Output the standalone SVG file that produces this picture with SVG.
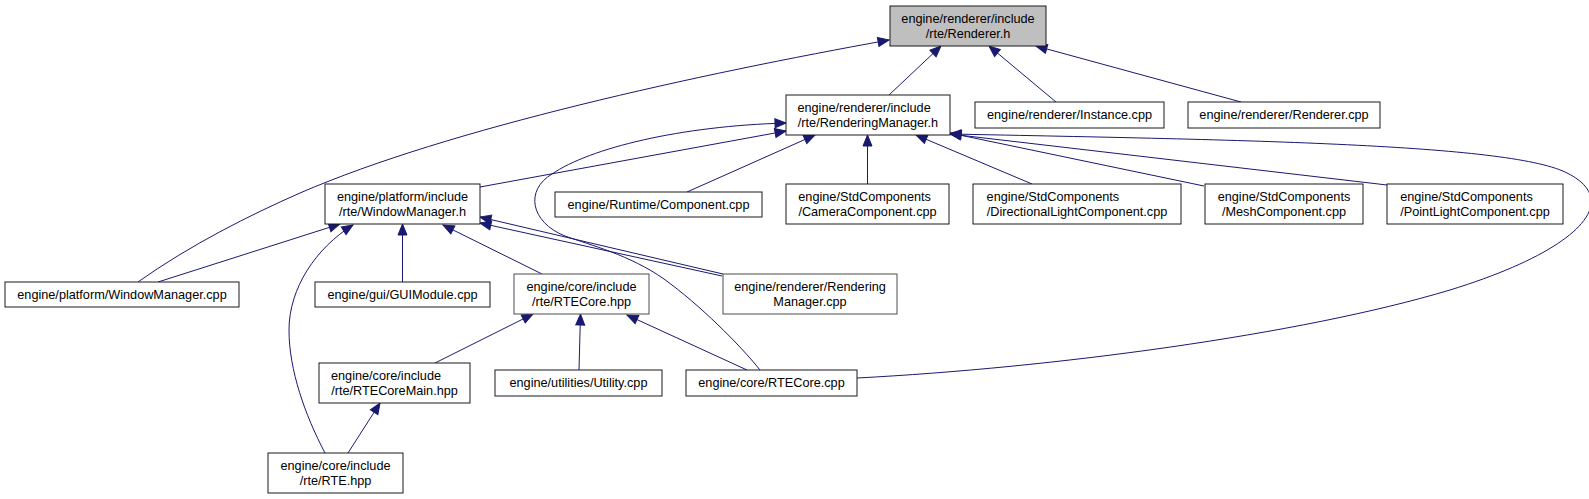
<svg xmlns="http://www.w3.org/2000/svg" width="1589" height="499" viewBox="0 0 1589 499">
<style>
.n rect{fill:#ffffff;stroke:#1a1a1a;stroke-width:1}
.n.g rect{stroke:#4d4d4d}
.n.root rect{fill:#bfbfbf}
.n text{font-family:"Liberation Sans",Arial,sans-serif;font-size:12.7px;fill:#000000}
.m{text-anchor:middle}
.s{text-anchor:start}
#edges path{fill:none;stroke:#191970;stroke-width:1;marker-end:url(#ah)}
</style>
<defs>
<marker id="ah" markerUnits="userSpaceOnUse" markerWidth="12" markerHeight="10" refX="11" refY="4.5" orient="auto" overflow="visible">
<path d="M0,0 L11,4.5 L0,9 Z" fill="#191970" stroke="#191970" stroke-width="1"/>
</marker>
</defs>
<rect width="1589" height="499" fill="#ffffff"/>
<g id="edges">
<path id="e_wmcpp_rh" d="M138,282 C190,245 250,215 300,193 C450,128 700,74 889,40"/>
<path id="e_rmh_rh" d="M889,95 L941,46"/>
<path id="e_inst_rh" d="M1056,102 L989,46"/>
<path id="e_rcpp_rh" d="M1241,102 L1036,46"/>
<path id="e_wmh_rmh" d="M480,187 L786,131"/>
<path id="e_rtecpp_rmh_left" d="M760,370 C740,345 700,305 664,279 C630,255 590,245 565,236 C530,222 525,190 552,174 C590,148 680,126 786,123"/>
<path id="e_rmcpp_wmh_a" d="M723,274 L480,217"/>
<path id="e_rmcpp_wmh_b" d="M722,276 L480,223"/>
<path id="e_wmcpp_wmh" d="M158,282 L340,224"/>
<path id="e_rte_wmh" d="M325,453 C305,415 289,370 289,330 C289,288 316,248 353,225"/>
<path id="e_gui_wmh" d="M402.5,282 L402.5,224"/>
<path id="e_rtehpp_wmh" d="M542,274 L443,225"/>
<path id="e_main_rtehpp" d="M435,363 L533,314"/>
<path id="e_rte_main" d="M348,453 L380,403"/>
<path id="e_util_rtehpp" d="M579,370 L580.5,314"/>
<path id="e_rtecpp_rtehpp" d="M747,370 L627,315"/>
<path id="e_comp_rmh" d="M687,192 L815,135"/>
<path id="e_cam_rmh" d="M867.5,184 L867.5,135"/>
<path id="e_dir_rmh" d="M1032,184 L916,135"/>
<path id="e_mesh_rmh" d="M1204,186 L950,133"/>
<path id="e_point_rmh" d="M1387,185 L950,134"/>
<path id="e_rtecpp_rmh_right" d="M857,378 C1050,368 1300,335 1450,290 C1580,250 1625,200 1565,172 C1505,144 1250,140 950,134"/>
</g>
<g id="n_renderer_h" class="n root"><rect x="890" y="6" width="156" height="40"/><text class="m" x="968" y="23">engine/renderer/include</text><text class="m" x="968" y="37.5">/rte/Renderer.h</text></g>
<g id="n_renderingmanager_h" class="n"><rect x="786" y="95" width="164" height="40"/><text class="s" x="797.4" y="112">engine/renderer/include</text><text class="m" x="868" y="126.5">/rte/RenderingManager.h</text></g>
<g id="n_instance_cpp" class="n"><rect x="975" y="102" width="189" height="26"/><text class="m" x="1069.5" y="119">engine/renderer/Instance.cpp</text></g>
<g id="n_renderer_cpp" class="n"><rect x="1188" y="102" width="192" height="26"/><text class="m" x="1284" y="119">engine/renderer/Renderer.cpp</text></g>
<g id="n_windowmanager_h" class="n"><rect x="325" y="184" width="155" height="40"/><text class="m" x="402.5" y="201">engine/platform/include</text><text class="m" x="402.5" y="215.5">/rte/WindowManager.h</text></g>
<g id="n_component_cpp" class="n"><rect x="555" y="192" width="207" height="25"/><text class="m" x="658.5" y="208.5">engine/Runtime/Component.cpp</text></g>
<g id="n_cameracomponent_cpp" class="n"><rect x="786" y="184" width="163" height="40"/><text class="s" x="798.3" y="201">engine/StdComponents</text><text class="m" x="867.5" y="215.5">/CameraComponent.cpp</text></g>
<g id="n_directionallight_cpp" class="n"><rect x="973" y="184" width="208" height="40"/><text class="s" x="986.6" y="201">engine/StdComponents</text><text class="m" x="1077" y="215.5">/DirectionalLightComponent.cpp</text></g>
<g id="n_meshcomponent_cpp" class="n"><rect x="1205" y="184" width="158" height="40"/><text class="m" x="1284" y="201">engine/StdComponents</text><text class="m" x="1284" y="215.5">/MeshComponent.cpp</text></g>
<g id="n_pointlight_cpp" class="n"><rect x="1387" y="184" width="176" height="40"/><text class="s" x="1400.2" y="201">engine/StdComponents</text><text class="m" x="1475" y="215.5">/PointLightComponent.cpp</text></g>
<g id="n_windowmanager_cpp" class="n"><rect x="5" y="282" width="234" height="25"/><text class="m" x="122" y="298.5">engine/platform/WindowManager.cpp</text></g>
<g id="n_guimodule_cpp" class="n"><rect x="315" y="282" width="175" height="25"/><text class="m" x="402.5" y="298.5">engine/gui/GUIModule.cpp</text></g>
<g id="n_rtecore_hpp" class="n g"><rect x="514" y="274" width="135" height="40"/><text class="m" x="581.5" y="291">engine/core/include</text><text class="m" x="581.5" y="305.5">/rte/RTECore.hpp</text></g>
<g id="n_renderingmanager_cpp" class="n g"><rect x="723" y="274" width="174" height="40"/><text class="m" x="810" y="291">engine/renderer/Rendering</text><text class="m" x="810" y="305.5">Manager.cpp</text></g>
<g id="n_rtecoremain_hpp" class="n"><rect x="319" y="363" width="151" height="40"/><text class="s" x="331" y="380">engine/core/include</text><text class="m" x="394.5" y="394.5">/rte/RTECoreMain.hpp</text></g>
<g id="n_utility_cpp" class="n"><rect x="495" y="370" width="167" height="26"/><text class="m" x="578.5" y="387">engine/utilities/Utility.cpp</text></g>
<g id="n_rtecore_cpp" class="n"><rect x="686" y="370" width="171" height="26"/><text class="m" x="771.5" y="387">engine/core/RTECore.cpp</text></g>
<g id="n_rte_hpp" class="n"><rect x="268" y="453" width="135" height="40"/><text class="m" x="335.5" y="470">engine/core/include</text><text class="m" x="335.5" y="484.5">/rte/RTE.hpp</text></g>
</svg>
